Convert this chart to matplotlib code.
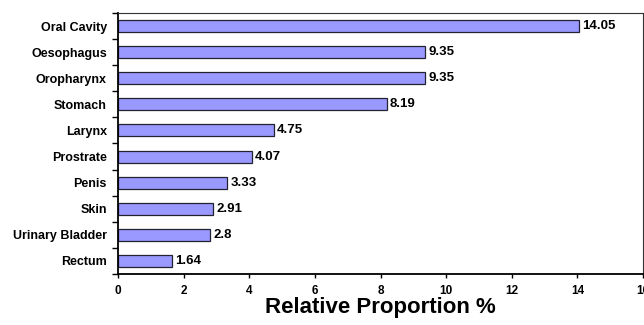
import matplotlib
matplotlib.use("Agg")
import matplotlib.pyplot as plt
import numpy as np

plt.rcParams['font.family'] = ['Liberation Sans', 'DejaVu Sans']

sites = ['Oral Cavity', 'Oesophagus', 'Oropharynx', 'Stomach', 'Larynx',
         'Prostrate', 'Penis', 'Skin', 'Urinary Bladder', 'Rectum']
proportion = [14.05, 9.35, 9.35, 8.19, 4.75, 4.07, 3.33, 2.91, 2.8, 1.64]
xticks = [0, 2, 4, 6, 8, 10, 12, 14, 16]

fig = plt.figure(figsize=(6.44, 3.25), dpi=100)
ax = fig.add_axes([118 / 644, 51 / 325, 525 / 644, 261 / 325])

y = np.arange(len(sites))
ax.barh(y, proportion, height=0.46, color='#9999ff', edgecolor='#222233', linewidth=0.9)
for yi, v in zip(y, proportion):
    ax.text(v + 0.1, yi, f'{v:g}', va='center', ha='left', fontsize=9.5, fontweight='bold')

ax.set_ylim(len(sites) - 0.5, -0.5)
ax.set_xlim(0, 16)
ax.set_yticks(y)
ax.set_yticklabels(sites, fontsize=9, fontweight='bold')
ax.set_yticks(np.arange(len(sites) + 1) - 0.5, minor=True)
ax.tick_params(axis='y', which='major', length=0, pad=8)
ax.tick_params(axis='y', which='minor', length=4, width=1)
ax.set_xticks(xticks)
ax.set_xticklabels([str(t) for t in xticks], fontsize=8.5, fontweight='bold')
ax.tick_params(axis='x', length=3, width=1, pad=5)
ax.set_xlabel('Relative Proportion %', fontsize=16, fontweight='bold', labelpad=0)

for side in ['left', 'bottom']:
    ax.spines[side].set_linewidth(1.3)
for side in ['top', 'right']:
    ax.spines[side].set_linewidth(0.8)
    ax.spines[side].set_color('#333333')

fig.savefig('out.png', dpi=100)
